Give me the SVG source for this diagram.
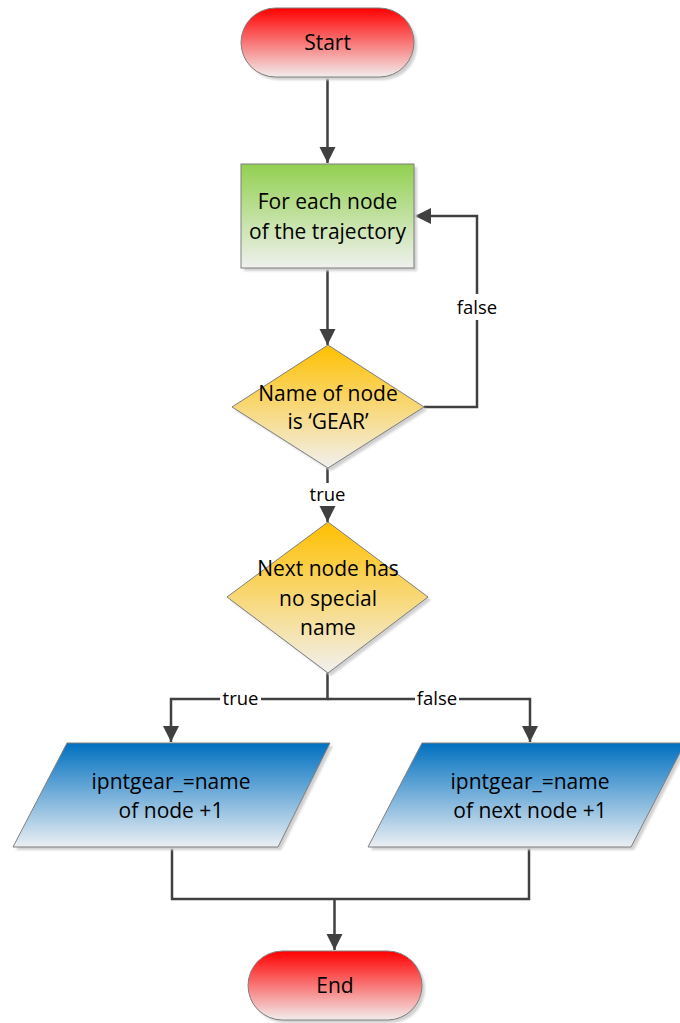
<svg xmlns="http://www.w3.org/2000/svg" width="680" height="1023" viewBox="0 0 680 1023">
  <defs>
    <linearGradient id="gRed" x1="0" y1="0" x2="0" y2="1">
      <stop offset="0" stop-color="#FF0000"/>
      <stop offset="1" stop-color="#F2EDED"/>
    </linearGradient>
    <linearGradient id="gGreen" x1="0" y1="0" x2="0" y2="1">
      <stop offset="0" stop-color="#92D050"/>
      <stop offset="1" stop-color="#EFF1EE"/>
    </linearGradient>
    <linearGradient id="gGold" x1="0" y1="0" x2="0" y2="1">
      <stop offset="0" stop-color="#FFC000"/>
      <stop offset="1" stop-color="#F1F0EF"/>
    </linearGradient>
    <linearGradient id="gBlue" x1="0" y1="0" x2="0" y2="1">
      <stop offset="0" stop-color="#0070C0"/>
      <stop offset="1" stop-color="#EBEFF3"/>
    </linearGradient>
    <filter id="soft" x="-10%" y="-10%" width="130%" height="130%">
      <feGaussianBlur stdDeviation="1.2"/>
    </filter>
    <marker id="arrow" markerUnits="userSpaceOnUse" markerWidth="18" markerHeight="18" viewBox="0 0 18 18" refX="16" refY="9" orient="auto">
      <path d="M0,1 L16,9 L0,17 Z" fill="#404040"/>
    </marker>
    <style>
      .shape { stroke: #7F7F7F; stroke-width: 1; }
      .shadow { fill: #D0D0D0; filter: url(#soft); }
      .label { font-family: "Open Sans", "Noto Sans", sans-serif; font-size: 21px; fill: #000; text-anchor: middle; }
      .edge { font-family: "Open Sans", "Noto Sans", sans-serif; font-size: 18.5px; fill: #000; text-anchor: middle; }
      .conn { fill: none; stroke: #404040; stroke-width: 2.5; }
    </style>
  </defs>

  <!-- connectors -->
  <g id="connectors">
    <path class="conn" d="M327.5,77 V163" marker-end="url(#arrow)"/>
    <path class="conn" d="M327.5,268 V345" marker-end="url(#arrow)"/>
    <path class="conn" d="M424,407 H477 V320"/>
    <path class="conn" d="M477,294 V216 H415" marker-end="url(#arrow)"/>
    <path class="conn" d="M327.5,468 V483"/>
    <path class="conn" d="M327.5,507 V522" marker-end="url(#arrow)"/>
    <path class="conn" d="M327.5,673 V699 H261"/>
    <path class="conn" d="M220,699 H171 V742" marker-end="url(#arrow)"/>
    <path class="conn" d="M327.5,699 H415"/>
    <path class="conn" d="M459,699 H530 V742" marker-end="url(#arrow)"/>
    <path class="conn" d="M172,847 V899 H529 V847"/>
    <path class="conn" d="M334.5,899 V950" marker-end="url(#arrow)"/>
    <text class="edge" x="477" y="314">false</text>
    <text class="edge" x="327.5" y="501">true</text>
    <text class="edge" x="240.5" y="705">true</text>
    <text class="edge" x="437" y="705">false</text>
  </g>

  <!-- Start terminator -->
  <g id="start">
    <rect class="shadow" x="244" y="11" width="173" height="69" rx="34.5"/>
    <rect class="shape" x="241" y="8" width="173" height="69" rx="34.5" fill="url(#gRed)"/>
    <text class="label" x="327.5" y="50">Start</text>
  </g>

  <!-- Loop over trajectory nodes -->
  <g id="loop">
    <rect class="shadow" x="244" y="167" width="173" height="104"/>
    <rect class="shape" x="241" y="164" width="173" height="104" fill="url(#gGreen)"/>
    <text class="label" x="327.5" y="209">For each node</text>
    <text class="label" x="327.5" y="239">of the trajectory</text>
  </g>

  <!-- Decision: GEAR node -->
  <g id="isGear">
    <path class="shadow" d="M331,348 L427,410 L331,471 L235,410 Z"/>
    <path class="shape" d="M328,345 L424,407 L328,468 L232,407 Z" fill="url(#gGold)"/>
    <text class="label" x="328" y="401">Name of node</text>
    <text class="label" x="328" y="429">is ‘GEAR’</text>
  </g>

  <!-- Decision: next node name -->
  <g id="nextNode">
    <path class="shadow" d="M331,525 L431,600 L331,676 L230,600 Z"/>
    <path class="shape" d="M328,522 L428,597 L328,673 L227,597 Z" fill="url(#gGold)"/>
    <text class="label" x="328" y="576">Next node has</text>
    <text class="label" x="328" y="606">no special</text>
    <text class="label" x="328" y="635">name</text>
  </g>

  <!-- Assignment: current node -->
  <g id="assignNode">
    <path class="shadow" d="M70,746 L333,746 L281,850 L16,850 Z"/>
    <path class="shape" d="M67,743 L330,743 L278,847 L13,847 Z" fill="url(#gBlue)"/>
    <text class="label" x="171" y="789">ipntgear_=name</text>
    <text class="label" x="171" y="818">of node +1</text>
  </g>

  <!-- Assignment: next node -->
  <g id="assignNext">
    <path class="shadow" d="M425,746 L688,746 L634,850 L371,850 Z"/>
    <path class="shape" d="M422,743 L685,743 L631,847 L368,847 Z" fill="url(#gBlue)"/>
    <text class="label" x="530" y="789">ipntgear_=name</text>
    <text class="label" x="530" y="818">of next node +1</text>
  </g>

  <!-- End terminator -->
  <g id="end">
    <rect class="shadow" x="251" y="954" width="174" height="69" rx="34.5"/>
    <rect class="shape" x="248" y="951" width="174" height="69" rx="34.5" fill="url(#gRed)"/>
    <text class="label" x="335" y="993">End</text>
  </g>
</svg>
